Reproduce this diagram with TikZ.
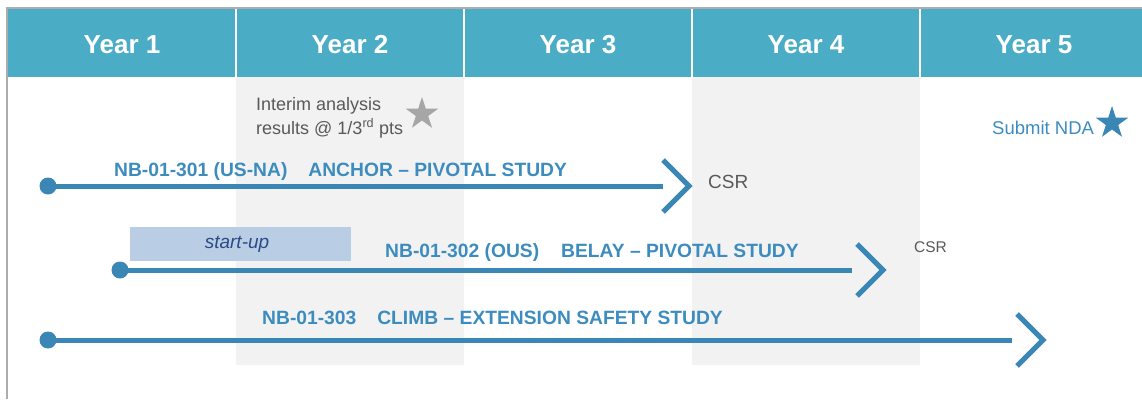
\documentclass[tikz,border=0pt]{standalone}
\usepackage{fontspec}
\setmainfont{Liberation Sans}
\usetikzlibrary{shapes.geometric,calc}
\definecolor{hdr}{HTML}{4BACC6}
\definecolor{shadec}{HTML}{F2F2F2}
\definecolor{tl}{HTML}{3A86B4}
\definecolor{lbl}{HTML}{3D8CBF}
\definecolor{gtxt}{HTML}{595959}
\definecolor{gstar}{HTML}{A6A6A6}
\definecolor{sbox}{HTML}{B9CDE5}
\definecolor{stxt}{HTML}{2B4A86}
\definecolor{framec}{HTML}{ADADAD}
\begin{document}
\begin{tikzpicture}[x=1pt,y=-1pt,
  yearlbl/.style={text=white,font=\fontsize{26}{30}\selectfont\bfseries,anchor=base,inner sep=0},
  studylbl/.style={text=lbl,font=\fontsize{19.25}{23}\selectfont\bfseries,anchor=base west,inner sep=0},
  graytxt/.style={text=gtxt,anchor=base west,inner sep=0},
  tldot/.style={circle,fill=tl,inner sep=0,minimum size=17pt},
  tline/.style={draw=tl,line width=5pt},
  chev/.style={draw=tl,line width=5pt,line join=miter},
  starshape/.style={star,star points=5,star point ratio=2.618,inner sep=0}]
\useasboundingbox (0,0) rectangle (1142,399);
% shaded columns
\fill[shadec] (236,77) rectangle (464,365);
\fill[shadec] (692,77) rectangle (920,365);
% header
\fill[hdr] (8,9) rectangle (1142,77);
\foreach \x in {236,464,692,920} \draw[white,line width=1.5pt] (\x,9) -- (\x,77);
\draw[framec,line width=1.5pt] (7,399) -- (7,8) -- (1142,8);
\node[yearlbl] (y1) at (122,53) {Year 1};
\node[yearlbl] (y2) at (350,53) {Year 2};
\node[yearlbl] (y3) at (578,53) {Year 3};
\node[yearlbl] (y4) at (806,53) {Year 4};
\node[yearlbl] (y5) at (1034,53) {Year 5};
% interim
\node[graytxt,font=\fontsize{18}{22}\selectfont] (int1) at (256,110) {Interim analysis};
\node[graytxt,font=\fontsize{18}{22}\selectfont] (int2) at (256,134) {results @ 1/3\textsuperscript{rd} pts};
\node[starshape,fill=gstar,minimum size=34pt] (gs) at (422,114) {};
% submit NDA
\node[text=lbl,anchor=base west,inner sep=0,font=\fontsize{18.5}{22}\selectfont] (nda) at (992,134) {Submit NDA};
\node[starshape,fill=tl,minimum size=34pt] (bs) at (1112,123) {};
% start-up box
\node[fill=sbox,minimum width=221pt,minimum height=34pt,inner sep=0,
      text=stxt,font=\fontsize{19}{22}\selectfont\itshape] (su) at (240.5,244) {\hspace*{-7pt}start-up};
% timeline 1
\node[tldot] (d1) at (48,186) {};
\coordinate (e1) at (663,186);
\coordinate (t1) at (689,186);
\draw[tline] (d1.center) -- (e1);
\draw[chev] ($(t1)+(-26,-26)$) -- (t1) -- ($(t1)+(-26,26)$);
\node[studylbl] (l1) at (114,176) {NB-01-301 (US-NA)\hspace{21pt}ANCHOR – PIVOTAL STUDY};
\node[graytxt,font=\fontsize{19}{22}\selectfont] (csr1) at (708,188) {CSR};
% timeline 2
\node[tldot] (d2) at (120,270) {};
\coordinate (e2) at (852,270);
\coordinate (t2) at (883,270);
\draw[tline] (d2.center) -- (e2);
\draw[chev] ($(t2)+(-26,-26)$) -- (t2) -- ($(t2)+(-26,26)$);
\node[studylbl] (l2) at (385,257) {NB-01-302 (OUS)\hspace{22pt}BELAY – PIVOTAL STUDY};
\node[graytxt,font=\fontsize{15.5}{18}\selectfont] (csr2) at (914,252) {CSR};
% timeline 3
\node[tldot] (d3) at (48,340) {};
\coordinate (e3) at (1012,340);
\coordinate (t3) at (1043,340);
\draw[tline] (d3.center) -- (e3);
\draw[chev] ($(t3)+(-26,-26)$) -- (t3) -- ($(t3)+(-26,26)$);
\node[studylbl] (l3) at (262,324) {NB-01-303\hspace{21pt}CLIMB – EXTENSION SAFETY STUDY};
\end{tikzpicture}
\end{document}
